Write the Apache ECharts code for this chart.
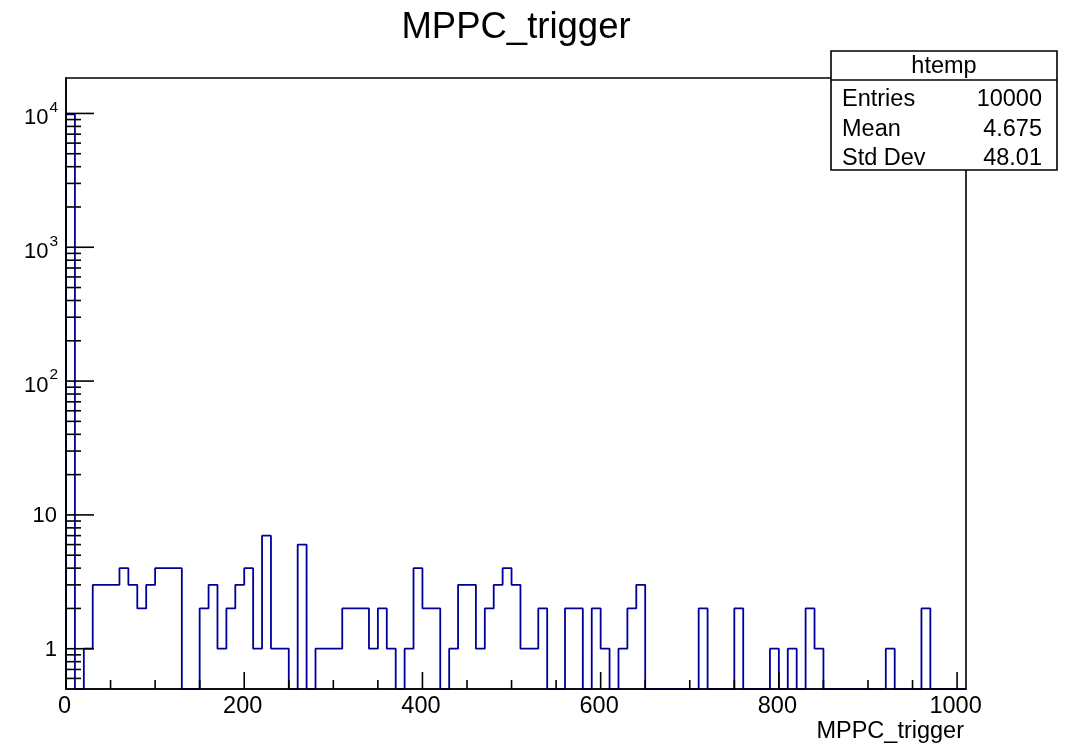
<!DOCTYPE html>
<html>
<head>
<meta charset="utf-8">
<script src="https://cdn.jsdelivr.net/npm/echarts@6/dist/echarts.min.js"></script>
<style>
  html, body { margin: 0; padding: 0; background: #fff; }
  #chart { width: 1071px; height: 749px; }
</style>
</head>
<body>
<div id="chart"></div>
<script>
// Histogram of MPPC_trigger: 101 bins of width 10 starting at 0
const binStart = 0;
const binWidth = 10;
const counts = [
  9864, 0, 1, 3, 3, 3, 4, 3, 2, 3,
  4, 4, 4, 0, 0, 2, 3, 1, 2, 3,
  4, 1, 7, 1, 1, 0, 6, 0, 1, 1,
  1, 2, 2, 2, 1, 2, 1, 0, 1, 4,
  2, 2, 0, 1, 3, 3, 1, 2, 3, 4,
  3, 1, 1, 2, 0, 0, 2, 2, 0, 2,
  1, 0, 1, 2, 3, 0, 0, 0, 0, 0,
  0, 2, 0, 0, 0, 2, 0, 0, 0, 1,
  0, 1, 0, 2, 1, 0, 0, 0, 0, 0,
  0, 0, 1, 0, 0, 0, 2, 0, 0, 0,
  0
];

// Axis ranges and tick labels
const xRange = [0, 1010];
const yRange = [0.5, 18400];
const xMajorTicks = [0, 200, 400, 600, 800, 1000];
const xTickLabels = ['0', '200', '400', '600', '800', '1000'];
const xMinorStep = 50;
const yDecades = [1, 10, 100, 1000, 10000];
const yDecadeBase = ['1', '10', '10', '10', '10'];
const yDecadeExp = ['', '', '2', '3', '4'];

// Text
const titleText = 'MPPC_trigger';
const xAxisTitle = 'MPPC_trigger';
const statsName = 'htemp';
const statsLabels = ['Entries', 'Mean', 'Std Dev'];
const statsValues = ['10000', '4.675', '48.01'];

const FONT = '"Liberation Sans", Arial, Helvetica, sans-serif';
const BLACK = '#000';
const LINE_W = 1.6;

// Step outline of the histogram (empty bins drop to the bottom of the frame)
const histPoints = [[binStart, yRange[0]]];
counts.forEach((c, i) => {
  const lo = binStart + i * binWidth;
  const hi = lo + binWidth;
  const v = c > 0 ? c : yRange[0];
  histPoints.push([lo, v], [hi, v]);
});
histPoints.push([binStart + counts.length * binWidth, yRange[0]]);

// Tick lists
const xTicks = [];
for (let v = xRange[0]; v <= xMajorTicks[xMajorTicks.length - 1]; v += xMinorStep) {
  const major = xMajorTicks.indexOf(v);
  xTicks.push({ v: v, len: major >= 0 ? 17 : 9, label: major >= 0 ? xTickLabels[major] : null });
}
const yTicks = [];
for (let e = -1; e <= 5; e++) {
  for (let m = 1; m <= 9; m++) {
    const v = m * Math.pow(10, e);
    if (v <= yRange[0] || v >= yRange[1]) continue;
    const d = yDecades.indexOf(v);
    yTicks.push({ v: v, len: d >= 0 ? 28 : 15, decade: d });
  }
}

function textEl(x, y, text, size, align, vAlign) {
  return {
    type: 'text',
    style: {
      x: x, y: y, text: text,
      font: size + 'px ' + FONT, fontSize: size, fontFamily: FONT,
      fill: BLACK,
      align: align, textAlign: align,
      verticalAlign: vAlign, textVerticalAlign: vAlign
    }
  };
}

const chart = echarts.init(document.getElementById('chart'), null, { renderer: 'canvas' });

chart.setOption({
  animation: false,
  backgroundColor: '#fff',
  grid: {
    left: 66, right: 105, top: 78, bottom: 60,
    show: true, borderColor: BLACK, borderWidth: LINE_W, backgroundColor: 'transparent'
  },
  xAxis: {
    type: 'value', min: xRange[0], max: xRange[1], z: 10,
    axisLine: { show: true, onZero: false, lineStyle: { color: BLACK, width: LINE_W } },
    axisTick: { show: false }, axisLabel: { show: false }, splitLine: { show: false }
  },
  yAxis: {
    type: 'log', logBase: 10, min: yRange[0], max: yRange[1], z: 10,
    axisLine: { show: true, onZero: false, lineStyle: { color: BLACK, width: LINE_W } },
    axisTick: { show: false }, axisLabel: { show: false }, splitLine: { show: false }
  },
  series: [
    {
      name: 'htemp',
      type: 'line',
      data: histPoints,
      symbol: 'none',
      step: false,
      smooth: false,
      clip: true,
      z: 2,
      lineStyle: { color: '#000099', width: 1.8 }
    },
    {
      // x axis ticks and labels
      type: 'custom',
      z: 20,
      data: xTicks.map(t => [t.v, yRange[0]]),
      renderItem: function (params, api) {
        const t = xTicks[params.dataIndex];
        const p = api.coord([t.v, yRange[0]]);
        const children = [{
          type: 'line',
          shape: { x1: p[0], y1: p[1], x2: p[0], y2: p[1] - t.len },
          style: { stroke: BLACK, lineWidth: LINE_W }
        }];
        if (t.label !== null) {
          children.push(textEl(p[0] - 1.5, p[1] + 18, t.label, 23.5, 'center', 'middle'));
        }
        return { type: 'group', children: children };
      }
    },
    {
      // y axis ticks and labels
      type: 'custom',
      z: 20,
      data: yTicks.map(t => [xRange[0], t.v]),
      renderItem: function (params, api) {
        const t = yTicks[params.dataIndex];
        const p = api.coord([xRange[0], t.v]);
        const children = [{
          type: 'line',
          shape: { x1: p[0], y1: p[1], x2: p[0] + t.len, y2: p[1] },
          style: { stroke: BLACK, lineWidth: LINE_W }
        }];
        if (t.decade >= 0) {
          const base = yDecadeBase[t.decade];
          const exp = yDecadeExp[t.decade];
          if (exp) {
            children.push(textEl(p[0] - 17.5, p[1] + 4.5, base, 22, 'right', 'middle'));
            children.push(textEl(p[0] - 16.5, p[1] - 6, exp, 15.5, 'left', 'middle'));
          } else {
            children.push(textEl(p[0] - 9, p[1] + 1.5, base, 22, 'right', 'middle'));
          }
        }
        return { type: 'group', children: children };
      }
    }
  ],
  graphic: [
    // title
    Object.assign(textEl(516, 27.5, titleText, 36.5, 'center', 'middle'), { z: 50 }),
    // x axis title
    Object.assign(textEl(964, 732, xAxisTitle, 23.5, 'right', 'middle'), { z: 50 }),
    // statistics box
    {
      type: 'group', z: 50,
      children: [
        {
          type: 'rect',
          shape: { x: 831, y: 51, width: 226, height: 119 },
          style: { fill: '#fff', stroke: BLACK, lineWidth: LINE_W }
        },
        {
          type: 'line',
          shape: { x1: 831, y1: 80, x2: 1057, y2: 80 },
          style: { stroke: BLACK, lineWidth: LINE_W }
        },
        textEl(944, 66.5, statsName, 23.5, 'center', 'middle'),
        textEl(842, 100, statsLabels[0], 23.5, 'left', 'middle'),
        textEl(1042, 100, statsValues[0], 23.5, 'right', 'middle'),
        textEl(842, 130, statsLabels[1], 23.5, 'left', 'middle'),
        textEl(1042, 130, statsValues[1], 23.5, 'right', 'middle'),
        textEl(842, 159, statsLabels[2], 23.5, 'left', 'middle'),
        textEl(1042, 159, statsValues[2], 23.5, 'right', 'middle')
      ]
    }
  ]
});
</script>
</body>
</html>
